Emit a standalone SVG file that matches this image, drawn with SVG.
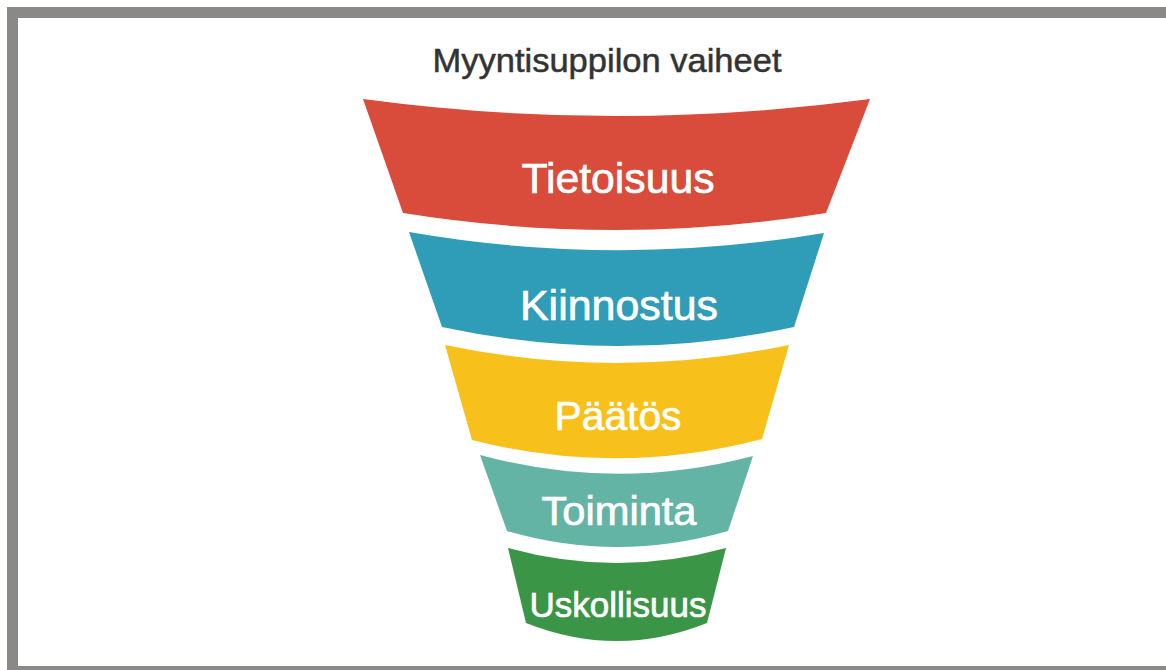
<svg xmlns="http://www.w3.org/2000/svg" width="1166" height="670" viewBox="0 0 1166 670">
  <style>
    .lbl { font-family: "Liberation Sans", Arial, sans-serif; fill: #ffffff; stroke: #ffffff; stroke-width: 0.7px; text-anchor: middle; }
    .title { font-family: "Liberation Sans", Arial, sans-serif; fill: #333333; stroke: #333333; stroke-width: 0.5px; text-anchor: middle; font-size: 34px; }
    .frame { fill: #8b8988; }
  </style>
  <rect x="0" y="0" width="1166" height="670" fill="#ffffff"/>
  <g id="frame">
    <rect class="frame" x="7" y="7" width="1159" height="11"/>
    <rect class="frame" x="7" y="7" width="11" height="663"/>
    <rect class="frame" x="7" y="666" width="1159" height="4"/>
  </g>
  <g id="title">
    <text class="title" x="607" y="72" textLength="349" lengthAdjust="spacingAndGlyphs">Myyntisuppilon vaiheet</text>
  </g>
  <g id="connectors"></g>
  <g id="stage-tietoisuus">
    <path d="M363,99 Q616,133 870,99 L826,213 Q616,247 403,213 Z" fill="#d94b3b"/>
    <text class="lbl" x="618" y="193" font-size="43" textLength="193" lengthAdjust="spacingAndGlyphs">Tietoisuus</text>
  </g>
  <g id="stage-kiinnostus">
    <path d="M409,232 Q616,268 824,233 L794,327 Q618,365 442,327 Z" fill="#2f9db7"/>
    <text class="lbl" x="619" y="320" font-size="43" textLength="198" lengthAdjust="spacingAndGlyphs">Kiinnostus</text>
  </g>
  <g id="stage-paatos">
    <path d="M445,345 Q617,381 789,345 L762,439 Q617,477 472,440 Z" fill="#f8c01b"/>
    <text class="lbl" x="618" y="430" font-size="41" textLength="127" lengthAdjust="spacingAndGlyphs">Päätös</text>
  </g>
  <g id="stage-toiminta">
    <path d="M480,455 Q617,492 753,456 L728,531 Q617,563 507,531 Z" fill="#64b4a5"/>
    <text class="lbl" x="619" y="525" font-size="40" textLength="155" lengthAdjust="spacingAndGlyphs">Toiminta</text>
  </g>
  <g id="stage-uskollisuus">
    <path d="M508,548 Q617,578 726,548 L707,623 Q617,659 526,623 Z" fill="#3a9646"/>
    <text class="lbl" x="618" y="617" font-size="35" textLength="177" lengthAdjust="spacingAndGlyphs">Uskollisuus</text>
  </g>
</svg>
